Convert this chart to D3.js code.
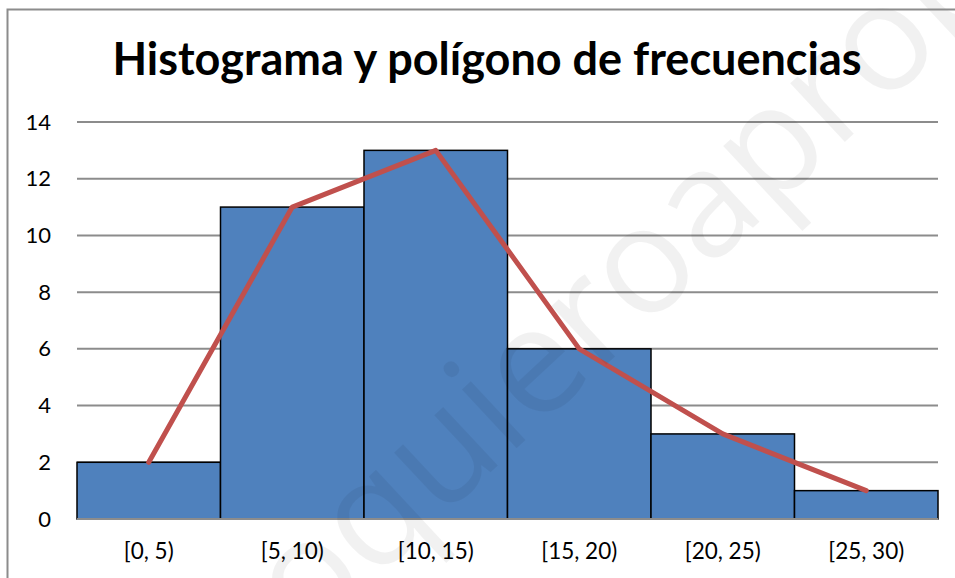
<!DOCTYPE html>
<html>
<head>
<meta charset="utf-8">
<script src="https://cdn.jsdelivr.net/npm/d3@7"></script>
<style>
  html, body { margin: 0; padding: 0; background: #fff; }
  svg { display: block; }
</style>
</head>
<body>
<svg id="chart" width="955" height="578"></svg>
<script>
const categories = ["[0, 5)", "[5, 10)", "[10, 15)", "[15, 20)", "[20, 25)", "[25, 30)"];
const frequencies = [2, 11, 13, 6, 3, 1];
const yTicks = [0, 2, 4, 6, 8, 10, 12, 14];
const titleText = "Histograma y polígono de frecuencias";
const watermarkText = "yoquieroaprobar.es";

const data = categories.map((c, i) => ({ cat: c, value: frequencies[i] }));

const W = 955, H = 578;
const plot = { left: 77, right: 938, top: 122, bottom: 519 };
const font = "Lato, 'Open Sans', sans-serif";

const svg = d3.select("#chart");
svg.append("rect").attr("width", W).attr("height", H).attr("fill", "#fff");

const x = d3.scaleBand().domain(categories).range([plot.left, plot.right]).padding(0);
const y = d3.scaleLinear().domain([0, 14]).range([plot.bottom, plot.top]);

// gridlines
svg.append("g")
  .selectAll("line")
  .data(yTicks.filter(t => t > 0))
  .join("line")
  .attr("x1", plot.left).attr("x2", plot.right)
  .attr("y1", d => y(d)).attr("y2", d => y(d))
  .attr("stroke", "#8c8c8c").attr("stroke-width", 2);

// y axis labels
const yAxis = d3.axisLeft(y).tickValues(yTicks).tickSize(0).tickPadding(0);
const gy = svg.append("g").attr("transform", `translate(${plot.left - 26},0)`).call(yAxis);
gy.select(".domain").remove();
gy.selectAll("text").attr("font-family", font).attr("font-size", 22).attr("fill", "#000");

// bars
svg.append("g")
  .selectAll("rect")
  .data(data)
  .join("rect")
  .attr("x", d => x(d.cat))
  .attr("y", d => y(d.value))
  .attr("width", x.bandwidth())
  .attr("height", d => y(0) - y(d.value))
  .attr("fill", "#4F81BD")
  .attr("stroke", "#000")
  .attr("stroke-width", 1.5);

// baseline
svg.append("line")
  .attr("x1", plot.left).attr("x2", plot.right)
  .attr("y1", y(0)).attr("y2", y(0))
  .attr("stroke", "#8c8c8c").attr("stroke-width", 2);

// x axis labels
const xAxis = d3.axisBottom(x).tickSize(0).tickPadding(0);
const gx = svg.append("g").attr("transform", `translate(0,${plot.bottom + 24})`).call(xAxis);
gx.select(".domain").remove();
gx.selectAll("text").attr("font-family", font).attr("font-size", 22.5).attr("fill", "#000").attr("dy", "0.71em");

// frequency polygon
const line = d3.line()
  .x(d => x(d.cat) + x.bandwidth() / 2)
  .y(d => y(d.value));
svg.append("path")
  .datum(data)
  .attr("d", line)
  .attr("fill", "none")
  .attr("stroke", "#C0504D")
  .attr("stroke-width", 5)
  .attr("stroke-linejoin", "round")
  .attr("stroke-linecap", "round");

// title
svg.append("text")
  .attr("x", 487).attr("y", 75)
  .attr("text-anchor", "middle")
  .attr("font-family", font)
  .attr("font-weight", "bold")
  .attr("font-size", 45)
  .attr("fill", "#000")
  .text(titleText);

// watermark
svg.append("text")
  .attr("transform", "translate(252,695) rotate(-43)")
  .attr("font-family", "'Open Sans', sans-serif")
  .attr("font-size", 150)
  .attr("fill", "#000")
  .attr("fill-opacity", 0.055)
  .text(watermarkText);

// outer frame
svg.append("rect")
  .attr("x", 7.5).attr("y", 9.5)
  .attr("width", W).attr("height", H)
  .attr("fill", "none")
  .attr("stroke", "#8c8c8c").attr("stroke-width", 2);
</script>
</body>
</html>
